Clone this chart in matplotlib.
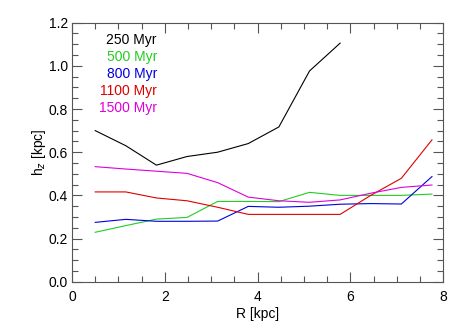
import matplotlib
matplotlib.use("Agg")
import matplotlib.pyplot as plt
from matplotlib.ticker import MultipleLocator

plt.rcParams['font.family'] = ['Liberation Sans', 'DejaVu Sans']

R = [0.5, 1.16, 1.82, 2.48, 3.14, 3.8, 4.46, 5.12, 5.78, 6.44, 7.1, 7.76]
h_250 = [0.70, 0.63, 0.54, 0.58, 0.60, 0.64, 0.717, 0.976, 1.105]
h_500 = [0.229, 0.26, 0.29, 0.298, 0.372, 0.372, 0.371, 0.414, 0.40, 0.40, 0.40, 0.406]
h_800 = [0.275, 0.289, 0.28, 0.28, 0.281, 0.349, 0.345, 0.35, 0.359, 0.362, 0.36, 0.487]
h_1100 = [0.416, 0.416, 0.388, 0.375, 0.345, 0.312, 0.312, 0.312, 0.312, 0.40, 0.479, 0.657]
h_1500 = [0.533, 0.522, 0.512, 0.502, 0.459, 0.392, 0.375, 0.368, 0.379, 0.41, 0.437, 0.448]

labels = ['250 Myr', '500 Myr', '800 Myr', '1100 Myr', '1500 Myr']
colors = ['#000000', '#22cc22', '#0000dd', '#dd0000', '#dd00dd']
series = [h_250, h_500, h_800, h_1100, h_1500]

fig = plt.figure(figsize=(4.63, 3.28), dpi=100)
ax = fig.add_axes([0.1555, 0.141, 0.8015, 0.79])

for s, c in zip(series, colors):
    ax.plot(R[:len(s)], s, color=c, lw=0.8)

for i, (lab, c) in enumerate(zip(labels, colors)):
    ax.text(1.83, 1.12 - i * 0.079, lab, color=c, ha='right', va='center', fontsize=10)

ax.set_xlim(0, 8)
ax.set_ylim(0, 1.2)
ax.xaxis.set_major_locator(MultipleLocator(2))
ax.xaxis.set_minor_locator(MultipleLocator(0.5))
ax.yaxis.set_major_locator(MultipleLocator(0.2))
ax.yaxis.set_minor_locator(MultipleLocator(0.05))
ax.tick_params(which='both', direction='in', top=True, right=True, labelsize=10, color='#555555')
ax.tick_params(which='major', length=7, width=0.8)
ax.tick_params(which='minor', length=4, width=0.8)
ax.tick_params(axis='x', which='major', pad=6)
ax.tick_params(axis='y', which='major', pad=3)
ax.set_yticks([0, 0.2, 0.4, 0.6, 0.8, 1.0, 1.2])
ax.set_yticklabels(['0.0', '0.2', '0.4', '0.6', '0.8', '1.0', '1.2'])
for sp in ax.spines.values():
    sp.set_color('#555555')
    sp.set_linewidth(0.8)

ax.set_xlabel('R [kpc]', fontsize=10, labelpad=2)
ax.set_ylabel(r'h$_z$ [kpc]', fontsize=10, labelpad=0)

fig.savefig('out.png', dpi=100)
